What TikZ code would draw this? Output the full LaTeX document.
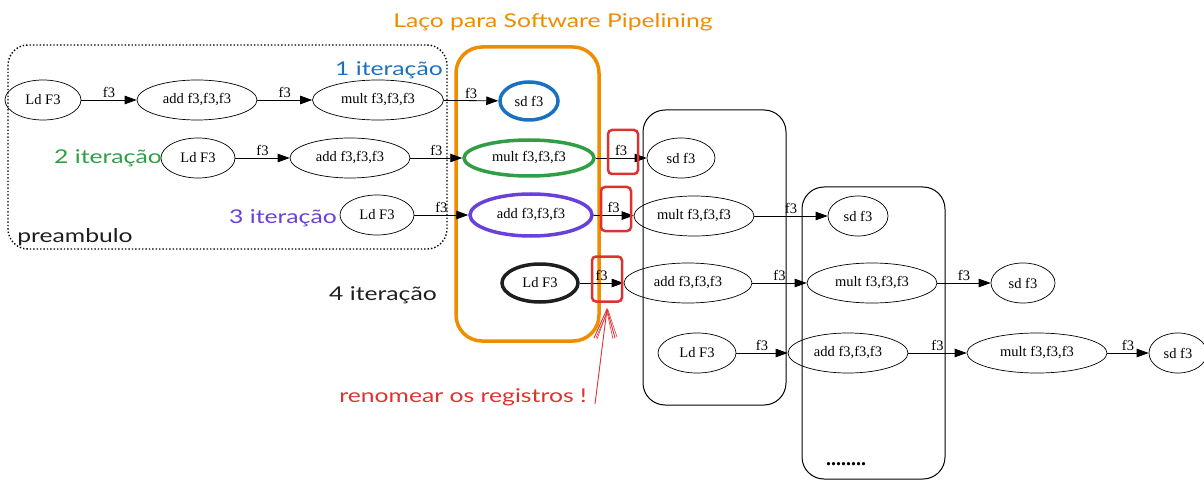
\documentclass[tikz,border=0pt]{standalone}
\usepackage{fontspec}
\setmainfont{Liberation Serif}
\newfontfamily\hand[FakeStretch=1.3]{Lato}
\usetikzlibrary{shapes.geometric,arrows.meta}
\definecolor{xblue}{HTML}{1971C2}
\definecolor{xgreen}{HTML}{2F9E44}
\definecolor{xviolet}{HTML}{6741D9}
\definecolor{xorange}{HTML}{F08C00}
\definecolor{xred}{HTML}{E03131}
\definecolor{xink}{HTML}{1E1E1E}
\tikzset{
  op/.style={ellipse, draw=black, line width=0.7pt, inner sep=0pt,
    minimum height=40pt, font=\fontsize{14.5}{16}\selectfont},
  edge/.style={draw=black, line width=0.8pt, -{Triangle[length=12pt,width=8.5pt]}},
  lbl/.style={above=1pt, font=\fontsize{14.5}{16}\selectfont, inner sep=1pt},
  note/.style={font=\hand\fontsize{19}{21}\selectfont, inner sep=0pt},
  stage/.style={draw=black, line width=1pt, rounded corners=22pt},
  regbox/.style={draw=xred, line width=2.5pt, rounded corners=4pt, inner sep=0pt}
}
\begin{document}
\begin{tikzpicture}[x=1pt, y=-1pt]
\useasboundingbox (0,0) rectangle (1204,481);

% group frames
\draw[line width=1.4pt, dotted, rounded corners=20pt] (8,45) rectangle (447,249);
\draw[xorange, line width=3.5pt, rounded corners=26pt] (456,47) rectangle (599,341);
\draw[stage] (643,110) rectangle (786,405);
\draw[stage] (802,187) rectangle (945,479);

% row 1
\node[op, minimum width=76pt] (ld1) at (43,100) {Ld F3};
\node[op, minimum width=120pt] (add1) at (197,100) {add f3,f3,f3};
\node[op, minimum width=131pt] (mul1) at (378,100) {mult f3,f3,f3};
\node[op, minimum width=58pt, minimum height=38pt, draw=xblue, line width=3.5pt] (sd1) at (529,101) {sd f3};

% row 2
\node[op, minimum width=74pt] (ld2) at (198,158) {Ld F3};
\node[op, minimum width=120pt] (add2) at (350,158) {add f3,f3,f3};
\node[op, minimum width=130pt, minimum height=36pt, draw=xgreen, line width=3.5pt] (mul2) at (529,158) {mult f3,f3,f3};
\node[op, minimum width=68pt] (sd2) at (681,158) {sd f3};

% row 3
\node[op, minimum width=74pt] (ld3) at (377,215) {Ld F3};
\node[op, minimum width=122pt, minimum height=42pt, draw=xviolet, line width=3.5pt] (add3) at (531,215) {add f3,f3,f3};
\node[op, minimum width=120pt] (mul3) at (694,216) {mult f3,f3,f3};
\node[op, minimum width=60pt] (sd3) at (858,216) {sd f3};

% row 4
\node[op, minimum width=76pt, minimum height=38pt, draw=xink, line width=3.5pt] (ld4) at (540,283) {Ld F3};
\node[op, minimum width=128pt] (add4) at (688,283) {add f3,f3,f3};
\node[op, minimum width=130pt] (mul4) at (872,283) {mult f3,f3,f3};
\node[op, minimum width=64pt] (sd4) at (1023,283) {sd f3};

% row 5
\node[op, minimum width=78pt] (ld5) at (697,353) {Ld F3};
\node[op, minimum width=120pt] (add5) at (848,353) {add f3,f3,f3};
\node[op, minimum width=140pt] (mul5) at (1037,353) {mult f3,f3,f3};
\node[op, minimum width=58pt] (sd5) at (1178,353) {sd f3};

% dependences
\draw[edge] (ld1) -- node[lbl] {f3} (add1);
\draw[edge] (add1) -- node[lbl] {f3} (mul1);
\draw[edge] (mul1) -- node[lbl] {f3} (sd1);
\draw[edge] (ld2) -- node[lbl] {f3} (add2);
\draw[edge] (add2) -- node[lbl] {f3} (mul2);
\draw[edge] (mul2) -- node[lbl] {f3} (sd2);
\draw[edge] (ld3) -- node[lbl] {f3} (add3);
\draw[edge] (add3) -- node[lbl] {f3} (mul3);
\draw[edge] (mul3) -- node[lbl] {f3} (sd3);
\draw[edge] (ld4) -- node[lbl] {f3} (add4);
\draw[edge] (add4) -- node[lbl] {f3} (mul4);
\draw[edge] (mul4) -- node[lbl] {f3} (sd4);
\draw[edge] (ld5) -- node[lbl] {f3} (add5);
\draw[edge] (add5) -- node[lbl] {f3} (mul5);
\draw[edge] (mul5) -- node[lbl] {f3} (sd5);

% renamed registers
\node[regbox, minimum width=30pt, minimum height=44pt] (rb1) at (623,152) {};
\node[regbox, minimum width=30pt, minimum height=44pt] (rb2) at (616,209) {};
\node[regbox, minimum width=30pt, minimum height=45pt] (rb3) at (607,279) {};

% annotations
\node[note, xorange] (title) at (553,22) {Laço para Software Pipelining};
\node[note, xblue] (it1) at (389,70) {1 iteração};
\node[note, xgreen] (it2) at (108,158) {2 iteração};
\node[note, xviolet] (it3) at (283,218) {3 iteração};
\node[note, xink] (it4) at (383,295) {4 iteração};
\node[note, xink] (pre) at (75,237) {preambulo};
\node[note, xred] (ren) at (463,397) {renomear os registros !};
\node[font=\bfseries\fontsize{20}{22}\selectfont, anchor=base, inner sep=0pt] (dots) at (846,465) {........};

% pointer to the renamed registers
\coordinate (tail) at (595,404);
\coordinate (tip) at (607,309);
\draw[xred, line width=0.9pt] (tail) -- (tip);
\draw[xred, line width=0.9pt] ([shift={(-13,29)}]tip) -- (tip) -- ([shift={(8,29)}]tip);
\draw[xred, line width=0.6pt] ([shift={(-10,30)}]tip) -- ([shift={(0,3)}]tip) -- ([shift={(6,30)}]tip);
\draw[xred, line width=0.5pt] ([shift={(-11,29)}]tip) -- ([shift={(1,1)}]tip) -- ([shift={(10,28)}]tip);
\end{tikzpicture}
\end{document}
